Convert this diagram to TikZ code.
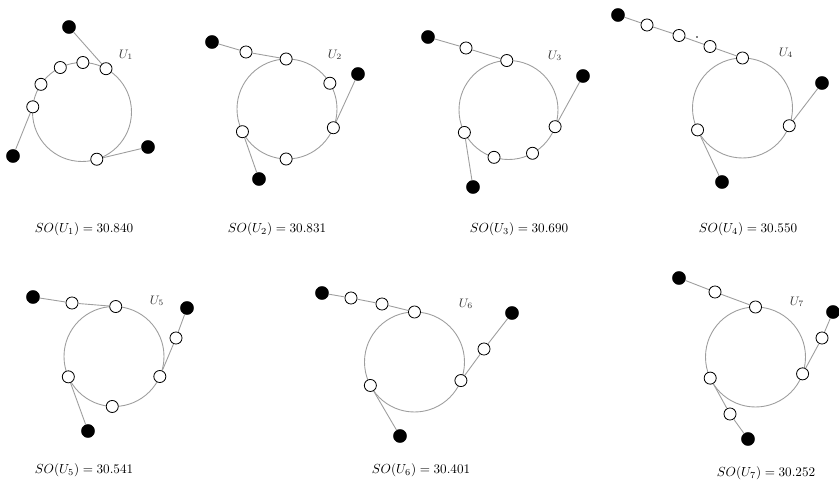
\documentclass[tikz,border=0pt]{standalone}
\usetikzlibrary{calc}
\tikzset{
  wv/.style={circle, draw=black, fill=white, line width=0.6pt, inner sep=0pt, minimum size=8.8pt},
  bv/.style={circle, fill=black, draw=black, line width=0.3pt, inner sep=0pt, minimum size=9.6pt},
  tinydot/.style={circle, fill=black, inner sep=0pt, minimum size=1.2pt},
  link/.style={draw=black!38, line width=0.65pt},
  ring/.style={draw=black!38, line width=0.65pt},
  glabel/.style={font=\small, text=black!80, inner sep=0pt},
  sotext/.style={inner sep=0pt, scale=0.96}
}
\begin{document}
\begin{tikzpicture}[x=0.73pt, y=-0.73pt]
\useasboundingbox (0,0) rectangle (839,482);

% ---------- U1 ----------
\coordinate (c1) at (82,112);
\draw[ring] (c1) circle[radius=49.5];
\begin{scope}[shift={(82,112)}]
  \node[wv] (w1a) at (-61:49.5) {};
  \node[wv] (w1b) at (-89:49.5) {};
  \node[wv] (w1c) at (-116:49.5) {};
  \node[wv] (w1d) at (-146:49.5) {};
  \node[wv] (w1e) at (186:49.5) {};
  \node[wv] (w1f) at (72.6:49.5) {};
\end{scope}
\node[bv] (b1a) at (69,27) {};
\node[bv] (b1b) at (13,156) {};
\node[bv] (b1c) at (148,147) {};
\draw[link] (b1a) -- (w1a);
\draw[link] (w1e) -- (b1b);
\draw[link] (w1f) -- (b1c);
\node[glabel] (l1) at (126,55) {$U_1$};
\node[sotext] (s1) at (84,229) {$SO(U_1) = 30.840$};

% ---------- U2 ----------
\coordinate (c2) at (287,109);
\draw[ring] (c2) circle[radius=50];
\begin{scope}[shift={(287,109)}]
  \node[wv] (w2a) at (-91:50) {};
  \node[wv] (w2b) at (-31:50) {};
  \node[wv] (w2c) at (22:50) {};
  \node[wv] (w2d) at (91:50) {};
  \node[wv] (w2e) at (153:50) {};
\end{scope}
\node[wv] (p2a) at (246,52) {};
\node[bv] (b2a) at (212,42) {};
\node[bv] (b2b) at (358,74) {};
\node[bv] (b2c) at (259,179) {};
\draw[link] (b2a) -- (p2a) -- (w2a);
\draw[link] (b2b) -- (w2c);
\draw[link] (w2e) -- (b2c);
\node[glabel] (l2) at (335,55) {$U_2$};
\node[sotext] (s2) at (277,229) {$SO(U_2) = 30.831$};

% ---------- U3 ----------
\coordinate (c3) at (508.5,110);
\draw[ring] (c3) circle[radius=49.5];
\begin{scope}[shift={(508.5,110)}]
  \node[wv] (w3a) at (-92:49.5) {};
  \node[wv] (w3b) at (19.7:49.5) {};
  \node[wv] (w3c) at (61:49.5) {};
  \node[wv] (w3d) at (107:49.5) {};
  \node[wv] (w3e) at (153:49.5) {};
\end{scope}
\node[wv] (p3a) at (466,48) {};
\node[bv] (b3a) at (428,37) {};
\node[bv] (b3b) at (583,76) {};
\node[bv] (b3c) at (473,187) {};
\draw[link] (b3a) -- (p3a) -- (w3a);
\draw[link] (b3b) -- (w3b);
\draw[link] (w3e) -- (b3c);
\node[glabel] (l3) at (555,56) {$U_3$};
\node[sotext] (s3) at (519,229) {$SO(U_3) = 30.690$};

% ---------- U4 ----------
\coordinate (c4) at (742.5,108);
\draw[ring] (c4) circle[radius=50];
\begin{scope}[shift={(742.5,108)}]
  \node[wv] (w4a) at (-90:50) {};
  \node[wv] (w4b) at (20.8:50) {};
  \node[wv] (w4c) at (154:50) {};
\end{scope}
\node[wv] (p4a) at (647,25) {};
\node[wv] (p4b) at (679,35.5) {};
\node[wv] (p4c) at (710,46.5) {};
\node[bv] (b4a) at (618,15) {};
\node[bv] (b4b) at (822,83) {};
\node[bv] (b4c) at (722,182) {};
\node[tinydot] (d4) at (697,37) {};
\draw[link] (b4a) -- (p4a) -- (p4b) -- (p4c) -- (w4a);
\draw[link] (b4b) -- (w4b);
\draw[link] (w4c) -- (b4c);
\node[glabel] (l4) at (786,53) {$U_4$};
\node[sotext] (s4) at (748,229) {$SO(U_4) = 30.550$};

% ---------- U5 ----------
\coordinate (c5) at (114,356.5);
\draw[ring] (c5) circle[radius=50];
\begin{scope}[shift={(114,356.5)}]
  \node[wv] (w5a) at (-88:50) {};
  \node[wv] (w5b) at (23.6:50) {};
  \node[wv] (w5c) at (92:50) {};
  \node[wv] (w5d) at (156:50) {};
\end{scope}
\node[wv] (p5a) at (72,303) {};
\node[wv] (p5b) at (176,338) {};
\node[bv] (b5a) at (33,297) {};
\node[bv] (b5b) at (187,308) {};
\node[bv] (b5c) at (88,431) {};
\draw[link] (b5a) -- (p5a) -- (w5a);
\draw[link] (b5b) -- (p5b) -- (w5b);
\draw[link] (w5d) -- (b5c);
\node[glabel] (l5) at (157,301) {$U_5$};
\node[sotext] (s5) at (84,470) {$SO(U_5) = 30.541$};

% ---------- U6 ----------
\coordinate (c6) at (414.5,362);
\draw[ring] (c6) circle[radius=50];
\begin{scope}[shift={(414.5,362)}]
  \node[wv] (w6a) at (-90:50) {};
  \node[wv] (w6b) at (21.8:50) {};
  \node[wv] (w6c) at (152:50) {};
\end{scope}
\node[wv] (p6a) at (351,298) {};
\node[wv] (p6b) at (382,304) {};
\node[wv] (p6c) at (484,349) {};
\node[bv] (b6a) at (322,293) {};
\node[bv] (b6b) at (512,313) {};
\node[bv] (b6c) at (400,436) {};
\draw[link] (b6a) -- (p6a) -- (p6b) -- (w6a);
\draw[link] (b6b) -- (p6c) -- (w6b);
\draw[link] (w6c) -- (b6c);
\node[glabel] (l6) at (466,304) {$U_6$};
\node[sotext] (s6) at (421,470) {$SO(U_6) = 30.401$};

% ---------- U7 ----------
\coordinate (c7) at (755.5,357);
\draw[ring] (c7) circle[radius=50];
\begin{scope}[shift={(755.5,357)}]
  \node[wv] (w7a) at (-90:50) {};
  \node[wv] (w7b) at (19.7:50) {};
  \node[wv] (w7c) at (155:50) {};
\end{scope}
\node[wv] (p7a) at (715,292) {};
\node[wv] (p7b) at (822,338) {};
\node[wv] (p7c) at (730,414) {};
\node[bv] (b7a) at (679,278) {};
\node[bv] (b7b) at (833,312) {};
\node[bv] (b7c) at (748,439) {};
\draw[link] (b7a) -- (p7a) -- (w7a);
\draw[link] (b7b) -- (p7b) -- (w7b);
\draw[link] (w7c) -- (p7c) -- (b7c);
\node[glabel] (l7) at (797,302) {$U_7$};
\node[sotext] (s7) at (766,473) {$SO(U_7) = 30.252$};
\end{tikzpicture}
\end{document}
